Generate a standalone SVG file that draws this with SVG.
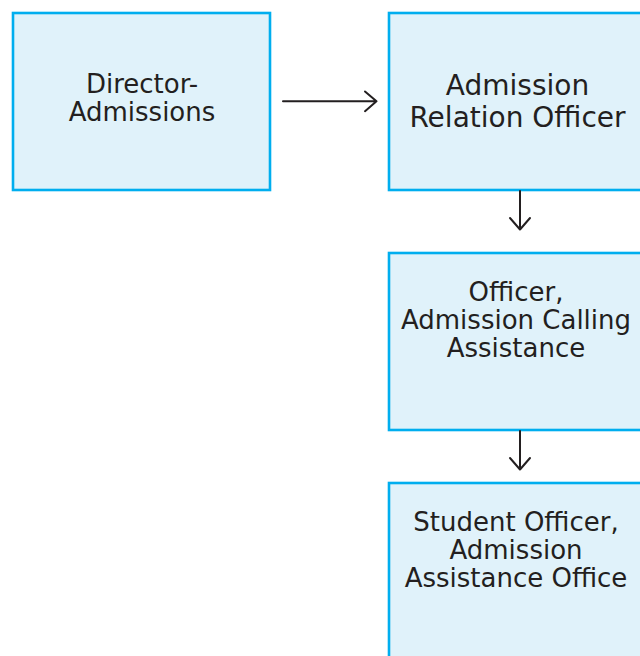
<svg xmlns="http://www.w3.org/2000/svg" width="640" height="656" viewBox="0 0 640 656">
<style>
.box{fill:#E0F2FA;stroke:#00AEEF;stroke-width:2.6}
.t{font-family:"DejaVu Sans",sans-serif;fill:#231F20;text-anchor:middle}
.c{fill:none;stroke:#231F20;stroke-width:2;stroke-linecap:round;stroke-linejoin:round}
</style>
<rect width="640" height="656" fill="#FFFFFF"/>
<g id="n1">
<rect class="box" x="13" y="13" width="257" height="177"/>
<text class="t" font-size="26"><tspan x="142" y="93">Director-</tspan><tspan x="142" y="121">Admissions</tspan></text>
</g>
<g id="n2">
<rect class="box" x="389" y="13" width="262" height="177"/>
<text class="t" font-size="28"><tspan x="517.5" y="95">Admission</tspan><tspan x="517.5" y="126.5">Relation Officer</tspan></text>
</g>
<g id="n3">
<rect class="box" x="389" y="253" width="262" height="177"/>
<text class="t" font-size="26"><tspan x="516" y="301">Officer,</tspan><tspan x="516" y="329.3">Admission Calling</tspan><tspan x="516" y="357.3">Assistance</tspan></text>
</g>
<g id="n4">
<rect class="box" x="389" y="483" width="262" height="190"/>
<text class="t" font-size="26"><tspan x="516" y="531">Student Officer,</tspan><tspan x="516" y="559.3">Admission</tspan><tspan x="516" y="587.3">Assistance Office</tspan></text>
</g>
<g id="connectors">
<path class="c" d="M283 101.3H376.5M365 91.5L376.5 101.3L365 111.2"/>
<path class="c" d="M520 191V229.5M510 218L520 229.5L530 218"/>
<path class="c" d="M520 431V469.5M510 458L520 469.5L530 458"/>
</g>
</svg>
